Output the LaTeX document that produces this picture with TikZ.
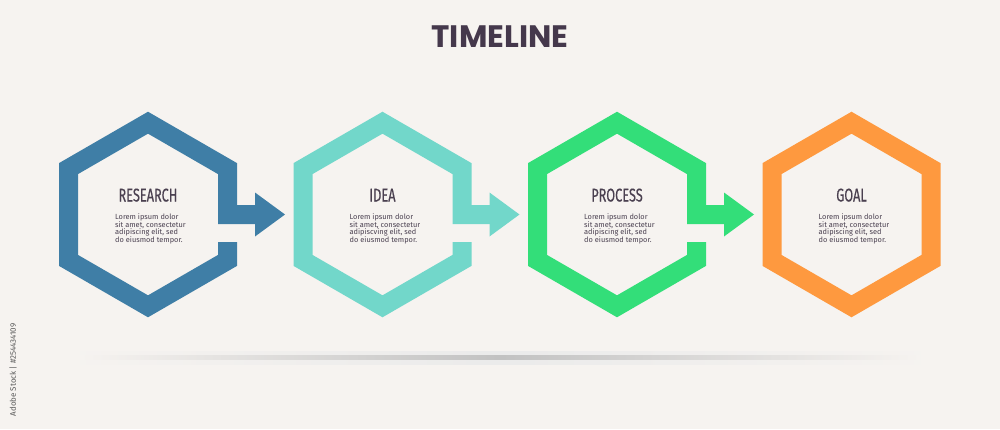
\documentclass[tikz,border=0pt]{standalone}
\usepackage{fontspec}
\setmainfont{Fira Sans}
\newfontfamily\titlefont{Poppins}
\newfontfamily\headfont{Fira Sans}[FakeStretch=0.69, FakeBold=0.4]
\definecolor{bg}{HTML}{F6F3F0}
\definecolor{ink}{HTML}{4A4050}
\definecolor{titlec}{HTML}{45384C}
\definecolor{cblue}{HTML}{3F7EA6}
\definecolor{cteal}{HTML}{72D7CA}
\definecolor{cgreen}{HTML}{33DE79}
\definecolor{corange}{HTML}{FE993F}
\begin{document}
\begin{tikzpicture}[x=1pt,y=-1pt,
  band/.style={line width=19pt, line join=miter, line cap=butt},
  headtext/.style={font=\headfont\fontsize{18.5}{19}\selectfont, anchor=base, text=ink, inner sep=0},
  bodytext/.style={font=\fontsize{7.4}{7.5}\selectfont, anchor=north west, align=left, inner sep=0, text=ink}]
\useasboundingbox (0,0) rectangle (1000,429);
\fill[bg] (0,0) rectangle (1000,429);
% shadow line
\shade[left color=bg, right color=bg, middle color=black!8] (60,351) rectangle (940,364);
\shade[left color=bg, right color=bg, middle color=black!24] (80,355) rectangle (920,359);
% title
\node[font=\titlefont\bfseries\fontsize{31}{33}\selectfont, text=titlec, anchor=base, inner sep=0] (title) at (500,47.7) {TIMELINE};
% hexagons with arrows
\foreach \cx/\col/\hd/\ad in {148/cblue/RESEARCH/adipiscing, 382.5/cteal/IDEA/adipiscving, 617/cgreen/PROCESS/adipiscing}{
  \draw[band, \col] (\cx+79.5,242) -- (\cx+79.5,260.4) -- (\cx,306.3) -- (\cx-79.5,260.4) -- (\cx-79.5,168.6) -- (\cx,122.7) -- (\cx+79.5,168.6) -- (\cx+79.5,214.5) -- (\cx+108,214.5);
  \fill[\col] (\cx+107,192.5) -- (\cx+137,214.5) -- (\cx+107,236.5) -- cycle;
  \node[headtext] (h-\hd) at (\cx,201.5) {\hd};
  \node[bodytext] (b-\hd) at (\cx-33,213.6) {Lorem ipsum dolor\\sit amet, consectetur\\\ad\ elit, sed\\do eiusmod tempor.};
}
% goal hexagon
\draw[band, corange] (851.5,122.7) -- (931,168.6) -- (931,260.4) -- (851.5,306.3) -- (772,260.4) -- (772,168.6) -- cycle;
\node[headtext] (h-GOAL) at (851.5,201.5) {GOAL};
\node[bodytext] (b-GOAL) at (818.5,213.6) {Lorem ipsum dolor\\sit amet, consectetur\\adipiscing elit, sed\\do eiusmod tempor.};
% side credit
\node[rotate=90, font=\fontsize{8}{9}\selectfont, text=black!65, inner sep=0] (stock) at (13,370) {Adobe Stock | \#254434109};
\end{tikzpicture}
\end{document}
